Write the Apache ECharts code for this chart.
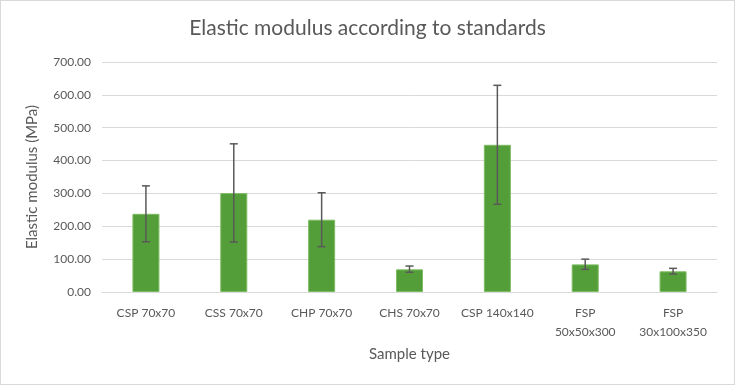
<!DOCTYPE html>
<html>
<head>
<meta charset="utf-8">
<script src="https://cdn.jsdelivr.net/npm/echarts@6/dist/echarts.min.js"></script>
<style>
  html, body { margin: 0; padding: 0; background: #fff; }
  #main { width: 735px; height: 385px; box-sizing: border-box; border: 1px solid #d9d9d9; }
</style>
</head>
<body>
<div id="main"></div>
<script>
// sample types and measured moduli (MPa)
var categories = ['CSP 70x70', 'CSS 70x70', 'CHP 70x70', 'CHS 70x70', 'CSP 140x140', 'FSP\n50x50x300', 'FSP\n30x100x350'];
var modulus = [238, 301, 220, 69, 448, 84, 63];
var errLow = [153, 152, 138, 60, 267, 69, 55];
var errHigh = [323, 451, 302, 79, 629, 100, 72];

var font = 'Lato, "Open Sans", sans-serif';
var textColor = '#595959';

var errData = categories.map(function (c, i) { return [i, errLow[i], errHigh[i]]; });

var chart = echarts.init(document.getElementById('main'));
chart.setOption({
    animation: false,
    title: {
        text: 'Elastic modulus according to standards',
        left: 'center',
        top: 12,
        textStyle: { fontFamily: font, fontSize: 21, fontWeight: 'normal', color: textColor }
    },
    grid: { left: 101, right: 17, top: 61, bottom: 92 },
    xAxis: {
        type: 'category',
        data: categories,
        name: 'Sample type',
        nameLocation: 'middle',
        nameGap: 55,
        nameTextStyle: { fontFamily: font, fontSize: 15, color: textColor },
        axisLine: { lineStyle: { color: '#d9d9d9' } },
        axisTick: { show: false },
        axisLabel: { fontFamily: font, fontSize: 12, color: textColor, margin: 12, lineHeight: 19, interval: 0 }
    },
    yAxis: {
        type: 'value',
        min: 0,
        max: 700,
        interval: 100,
        name: 'Elastic modulus (MPa)',
        nameLocation: 'middle',
        nameGap: 62,
        nameTextStyle: { fontFamily: font, fontSize: 15, color: textColor },
        axisLine: { show: false },
        axisTick: { show: false },
        splitLine: { lineStyle: { color: '#d9d9d9', width: 1 } },
        axisLabel: {
            fontFamily: font, fontSize: 12, color: textColor, margin: 11,
            formatter: function (v) { return v.toFixed(2); }
        }
    },
    series: [
        {
            type: 'bar',
            data: modulus,
            barWidth: 27,
            itemStyle: { color: '#549e39', borderColor: '#7cbc62', borderWidth: 1 }
        },
        {
            type: 'custom',
            data: errData,
            z: 10,
            renderItem: function (params, api) {
                var x = api.value(0);
                var lo = api.coord([x, api.value(1)]);
                var hi = api.coord([x, api.value(2)]);
                var cap = 4;
                var style = { stroke: '#595959', lineWidth: 1.5 };
                return {
                    type: 'group',
                    children: [
                        { type: 'line', shape: { x1: lo[0], y1: lo[1], x2: hi[0], y2: hi[1] }, style: style },
                        { type: 'line', shape: { x1: lo[0] - cap, y1: lo[1], x2: lo[0] + cap, y2: lo[1] }, style: style },
                        { type: 'line', shape: { x1: hi[0] - cap, y1: hi[1], x2: hi[0] + cap, y2: hi[1] }, style: style }
                    ]
                };
            }
        }
    ]
});
</script>
</body>
</html>
